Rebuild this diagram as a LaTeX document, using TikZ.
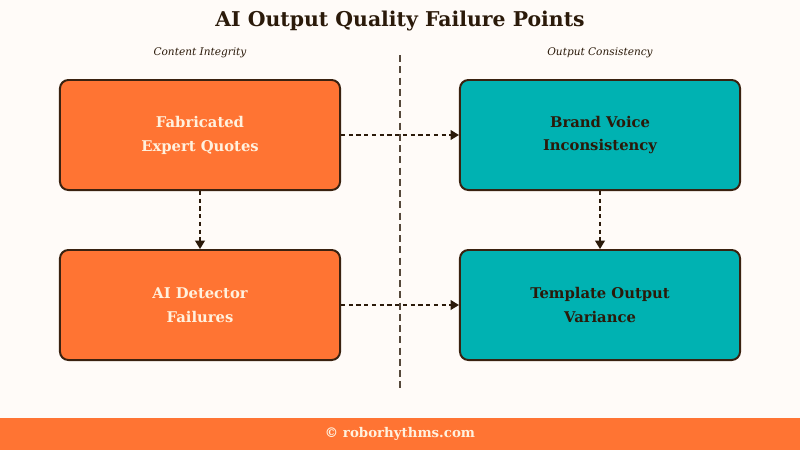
\documentclass[tikz,border=0pt]{standalone}
\usepackage{fontspec}
\setmainfont{DejaVu Serif}
\usepackage{tikz}
\usetikzlibrary{arrows.meta, positioning}
\definecolor{pagebg}{HTML}{FFFBF8}
\definecolor{ink}{HTML}{2B1A0A}
\definecolor{rim}{HTML}{3A2210}
\definecolor{flame}{HTML}{FF7433}
\definecolor{lagoon}{HTML}{00B2B2}
\definecolor{cream}{HTML}{FFF1DE}

\begin{document}
\begin{tikzpicture}[
  x=0.025cm, y=-0.025cm,
  %--- shared node styles -----------------------------------------
  fail/.style={
    rectangle, draw=rim, line width=1.4pt, rounded corners=6pt,
    minimum width=7cm, minimum height=2.75cm,
    align=center, font=\fontsize{10.5}{17}\selectfont\bfseries,
    inner sep=4pt
  },
  hot/.style={fail, fill=flame, text=cream},
  cool/.style={fail, fill=lagoon, text=ink},
  colhead/.style={font=\fontsize{7.5}{9}\selectfont\itshape, text=ink},
  arr/.style={-{Triangle[length=6pt,width=7pt]}, dashed, line width=1pt,
    color=ink, dash pattern=on 3pt off 2.5pt},
]

%% --- canvas and footer ------------------------------------------
\fill[pagebg] (0,0) rectangle (800,450);
\fill[flame] (0,418) rectangle (800,450);
\useasboundingbox (0,0) rectangle (800,450);

\node[font=\fontsize{14.5}{16}\selectfont\bfseries, text=ink] (title) at (400,21)
  {AI Output Quality Failure Points};
\node[font=\fontsize{9.5}{11}\selectfont\bfseries, text=cream] (footer) at (400,434)
  {\textcopyright{} roborhythms.com};

%% --- column headings and divider --------------------------------
\node[colhead] (lefthead)  at (200,53) {Content Integrity};
\node[colhead] (righthead) at (600,53) {Output Consistency};
\coordinate (divtop) at (400,55);
\coordinate (divbot) at (400,392);
\draw[dashed, line width=1pt, color=ink!80, dash pattern=on 5pt off 3pt]
  (divtop) -- (divbot);

%% --- ROW 1 (y=135) ----------------------------------------------
\node[hot]  (quotes) at (200,135) {Fabricated\\Expert Quotes};
\node[cool] (voice)  at (600,135) {Brand Voice\\Inconsistency};

%% --- ROW 2 (y=305) ----------------------------------------------
\node[hot]  (detect)   at (200,305) {AI Detector\\Failures};
\node[cool] (template) at (600,305) {Template Output\\Variance};

%% --- arrows -----------------------------------------------------
\draw[arr] (quotes.east) -- (voice.west);
\draw[arr] (quotes.south) -- (detect.north);
\draw[arr] (voice.south) -- (template.north);
\draw[arr] (detect.east) -- (template.west);

\end{tikzpicture}
\end{document}
